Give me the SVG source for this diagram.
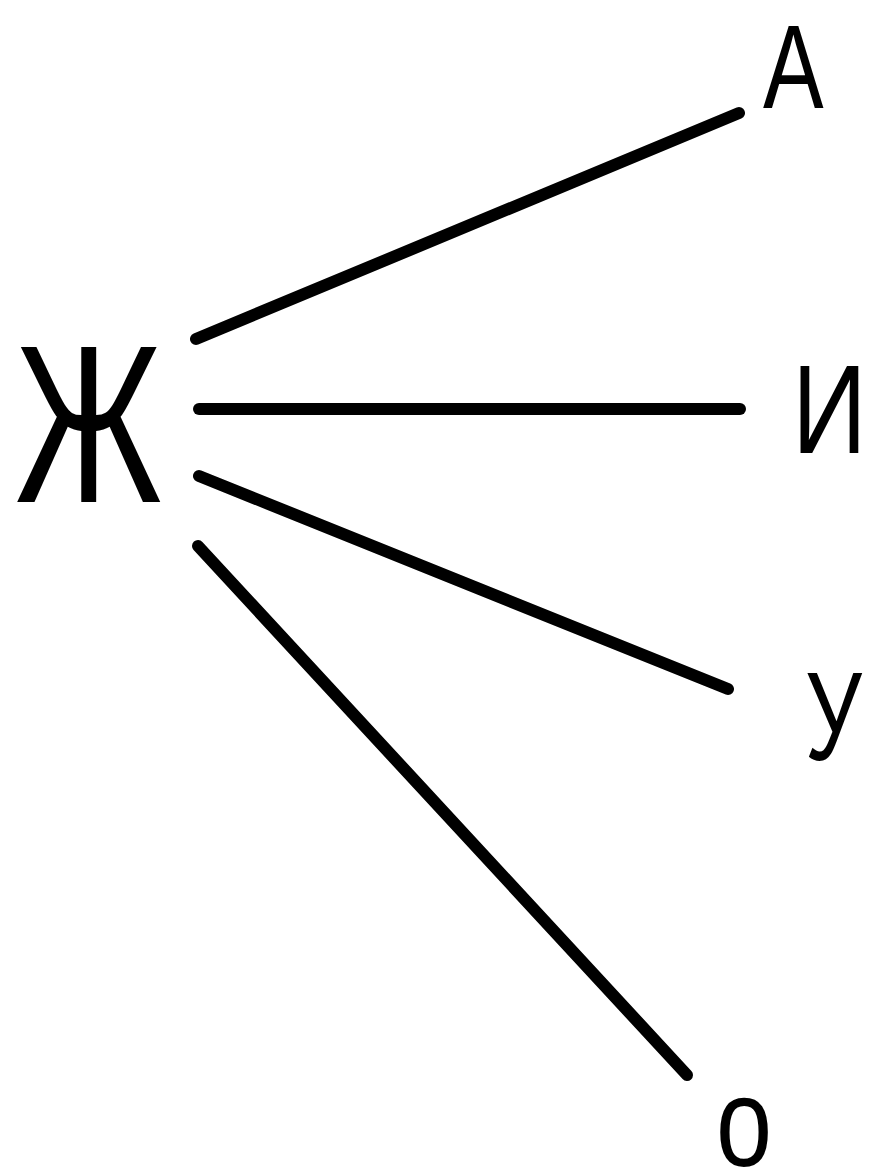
<svg xmlns="http://www.w3.org/2000/svg" width="869" height="1174" viewBox="0 0 869 1174">
<style>
.lbl{font-family:"Liberation Sans",Arial,sans-serif;fill:#000}
.c line{stroke:#000;stroke-width:12;stroke-linecap:round}
</style>
<rect width="869" height="1174" fill="#fff"/>
<g class="c" id="connectors">
<line x1="196" y1="339" x2="739" y2="113"/>
<line x1="199" y1="409" x2="740" y2="409"/>
<line x1="199" y1="476" x2="728" y2="689"/>
<line x1="198" y1="546" x2="687" y2="1075"/>
</g>
<g id="node-zh"><text class="lbl" transform="translate(15,502) scale(0.71,1)" font-size="225">Ж</text></g>
<g id="node-a"><text class="lbl" transform="translate(763,108) scale(0.77,1)" font-size="118">А</text></g>
<g id="node-i"><text class="lbl" transform="translate(792,453) scale(0.82,1)" font-size="127">И</text></g>
<g id="node-u"><text class="lbl" transform="translate(805,760) scale(0.71,1)" font-size="126">У</text></g>
<g id="node-o"><text class="lbl" transform="translate(716,1166) scale(0.8,1)" font-size="126">о</text></g>
</svg>
